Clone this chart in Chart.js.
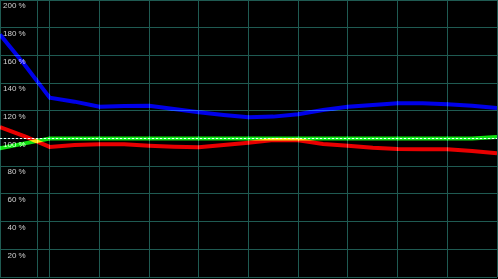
<!DOCTYPE html>
<html>
<head>
<meta charset="utf-8">
<script src="https://cdn.jsdelivr.net/npm/chart.js@4/dist/chart.umd.min.js"></script>
<style>
html,body{margin:0;padding:0;background:#000;}
#wrap{width:498px;height:279px;}
</style>
</head>
<body>
<div id="wrap"><canvas id="c" width="498" height="279"></canvas></div>
<script>
// sample positions along the time axis
const positions = [0,1,2,3,4,5,6,7,8,9,10,11,12,13,14,15,16,17,18,19,20];
// vertical grid positions (incl. extra marker line)
const gridPositions = [0,1.5,2,4,6,8,10,12,14,16,18,20];
// y tick labels
const yTicks = [0,20,40,60,80,100,120,140,160,180,200];
const yTickLabels = ['', '20 %','40 %','60 %','80 %','100 %','120 %','140 %','160 %','180 %','200 %'];
// series values (%)
const blueValues  = [175,153,129.5,126.6,123,123.5,123.7,121.3,118.9,117,115.3,115.8,117.5,120.6,123,124.2,125.4,125.4,124.7,123.7,122];
const redValues   = [108.3,101.5,93.9,95.3,95.8,95.8,94.8,94.1,93.7,95.3,97.0,98.9,98.7,96,94.8,93.4,92.4,92.2,92.2,91,89.3];
const greenValues = [93,96.5,100,100,100,100,100,100,100,100,100,100,100,100,100,100,100,100,100,100,101];
const refValues   = [100,100,100,100,100,100,100,100,100,100,100,100,100,100,100,100,100,100,100,100,100];

const toXY = vals => vals.map((v,i)=>({x:positions[i], y:v}));
const gridColor = '#1f5a52';

const blendPlugin = {
  id:'blend',
  beforeDatasetsDraw(chart){ chart.ctx.save(); chart.ctx.globalCompositeOperation='lighter'; },
  afterDatasetsDraw(chart){ chart.ctx.restore(); }
};

const zeroPad = s => { s.paddingTop=0; s.paddingBottom=0; s.paddingLeft=0; s.paddingRight=0; };

new Chart(document.getElementById('c'), {
  type:'line',
  data:{
    datasets:[
      {data:toXY(refValues), borderColor:'#d8d8d8', borderWidth:1, borderDash:[2,2], pointRadius:0, fill:false},
      {data:toXY(greenValues), borderColor:'#10e010', borderWidth:4, pointRadius:0, fill:false},
      {data:toXY(redValues), borderColor:'#e80000', borderWidth:4, pointRadius:0, fill:false},
      {data:toXY(blueValues), borderColor:'#0000e8', borderWidth:4, pointRadius:0, fill:false}
    ]
  },
  options:{
    responsive:false,
    animation:false,
    events:[],
    layout:{padding:{top:0,left:0,right:1,bottom:2}},
    plugins:{legend:{display:false}, tooltip:{enabled:false}},
    scales:{
      x:{
        type:'linear', min:0, max:20,
        afterBuildTicks(scale){ scale.ticks = gridPositions.map(v=>({value:v})); },
        afterFit(scale){ scale.height=0; zeroPad(scale); },
        ticks:{display:false},
        grid:{color:gridColor, drawTicks:false, tickLength:0},
        border:{display:false}
      },
      y:{
        min:0, max:200,
        afterBuildTicks(scale){ scale.ticks = yTicks.map(v=>({value:v})); },
        afterFit(scale){ scale.width=0; zeroPad(scale); },
        ticks:{
          mirror:true, crossAlign:'far', padding:3, labelOffset:6,
          color:'#d0d0d0', font:{family:'Liberation Sans', size:8},
          callback:(v)=>yTickLabels[yTicks.indexOf(v)]
        },
        grid:{color:gridColor, drawTicks:false, tickLength:0},
        border:{display:false}
      }
    }
  },
  plugins:[blendPlugin]
});
</script>
</body>
</html>
